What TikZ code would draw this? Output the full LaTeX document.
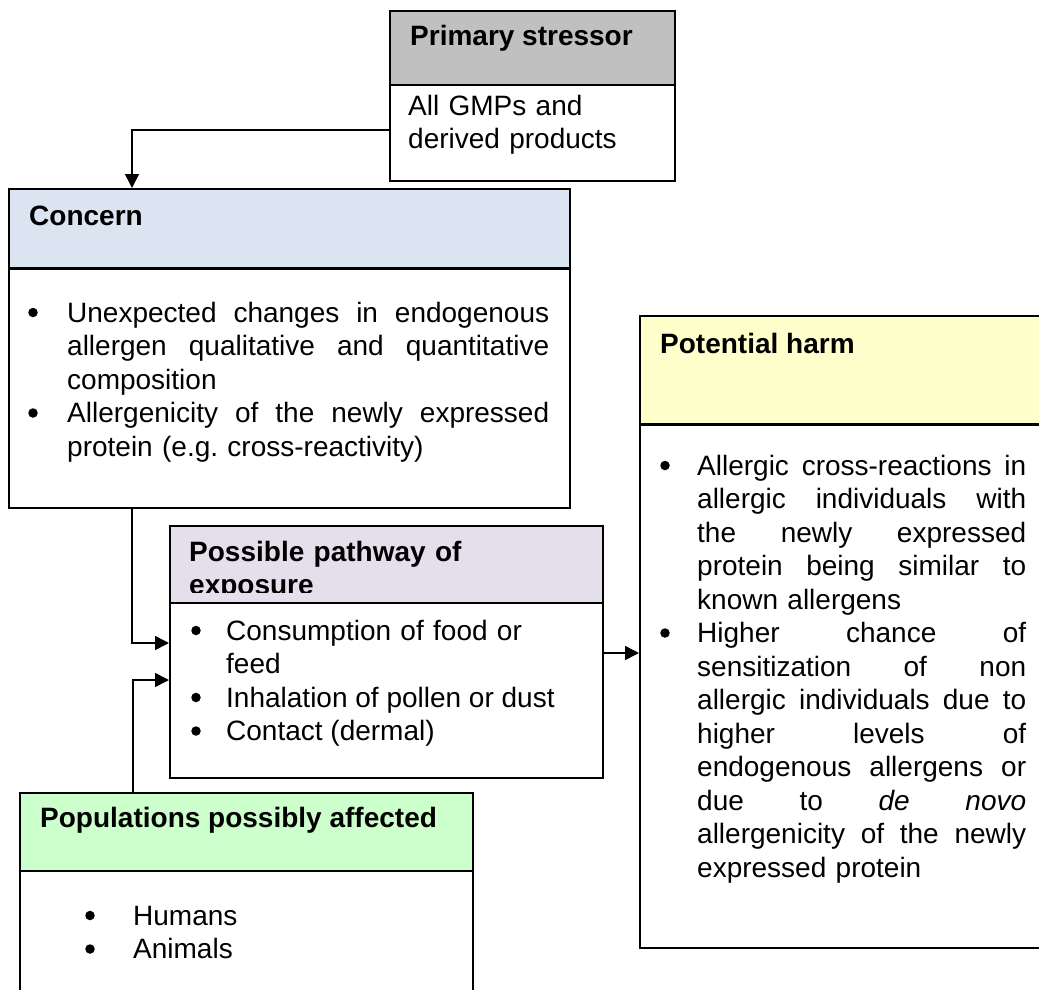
\documentclass[tikz,border=0pt]{standalone}
\usepackage{fontspec}
\setmainfont{Liberation Sans}
\usetikzlibrary{arrows.meta}
\definecolor{hdrgray}{HTML}{C0C0C0}
\definecolor{hdrblue}{HTML}{DBE5F1}
\definecolor{hdrlilac}{HTML}{E5DFEC}
\definecolor{hdryellow}{HTML}{FFFFCC}
\definecolor{hdrgreen}{HTML}{CCFFCC}
% one fully justified line of a given width: the word spaces take up the slack
\newcommand{\jline}[2]{\leavevmode\hbox to #1{\spaceskip=0.28em plus 1fil\relax #2}}
\newcommand{\cj}[1]{\jline{482pt}{#1}}
\newcommand{\hj}[1]{\jline{329pt}{#1}}
\frenchspacing
\begin{document}
\begin{tikzpicture}[x=1pt,y=-1pt,
  box/.style={draw=black, line width=1.6pt, fill=white, inner sep=0pt, anchor=north west},
  body/.style={font=\fontsize{28pt}{33.5pt}\selectfont, inner sep=0pt, anchor=base west, align=left},
  head/.style={font=\fontsize{28pt}{33.5pt}\selectfont\bfseries, inner sep=0pt, anchor=base west, align=left},
  bul/.style={circle, fill=black, inner sep=0pt, minimum size=9.5pt, yshift=9.5pt},
  sep/.style={line width=2.6pt},
  conn/.style={line width=1.6pt, -{Triangle[length=14pt,width=14pt]}}]
\useasboundingbox (0,0) rectangle (1039,990);
\clip (0,0) rectangle (1039,990);

% ---- boxes: body frame first, coloured header on top
\node[box, minimum width=285pt, minimum height=170pt] (prim) at (389,10) {};
\node[box, fill=hdrgray, minimum width=285pt, minimum height=74pt] (primh) at (389,10) {};

\node[box, minimum width=561pt, minimum height=319pt] (conc) at (8,188) {};
\node[box, fill=hdrblue, minimum width=561pt, minimum height=79pt] (conch) at (8,188) {};
\draw[sep] (conch.south west) -- (conch.south east);

\node[box, minimum width=433pt, minimum height=252pt] (path) at (169,525) {};
\node[box, fill=hdrlilac, minimum width=433pt, minimum height=77pt] (pathh) at (169,525) {};

\node[box, minimum width=421pt, minimum height=632pt] (harm) at (639,315) {};
\node[box, fill=hdryellow, minimum width=421pt, minimum height=108pt] (harmh) at (639,315) {};
\draw[sep] (harmh.south west) -- (harmh.south east);

\node[box, minimum width=453pt, minimum height=230pt] (pop) at (19,792) {};
\node[box, fill=hdrgreen, minimum width=453pt, minimum height=78pt] (poph) at (19,792) {};

% ---- primary stressor
\node[head] (primt) at (410,46) {Primary stressor};
\node[body, text width=260pt] (primb) at (408,115) {All GMPs and\\derived products};

% ---- concern (bullets sit on the baseline of their item)
\node[head] (conct) at (29,225) {Concern};
\node[bul] (cb1) at (33,322) {};
\node[body, text width=482pt] (ci1) at (67,322)
  {\cj{Unexpected changes in endogenous}\\\cj{allergen qualitative and quantitative}\\composition};
\node[bul] (cb2) at (33,422.5) {};
\node[body, text width=482pt] (ci2) at (67,422.5)
  {\cj{Allergenicity of the newly expressed}\\protein (e.g. cross-reactivity)};

% ---- possible pathway of exposure (heading cut off by its frame)
\begin{scope}
  \clip (169,525) rectangle (602,592);
  \node[head, text width=400pt] (patht) at (189,561) {Possible pathway of\\exposure};
\end{scope}
\node[bul] (pb1) at (196,640) {};
\node[body, text width=370pt] (pi1) at (226,640) {Consumption of food or\\feed};
\node[bul] (pb2) at (196,707) {};
\node[body] (pi2) at (226,707) {Inhalation of pollen or dust};
\node[bul] (pb3) at (196,740.5) {};
\node[body] (pi3) at (226,740.5) {Contact (dermal)};

% ---- potential harm
\node[head] (harmt) at (660,353) {Potential harm};
\node[bul] (hb1) at (665,475) {};
\node[body, text width=329pt] (hi1) at (697,475)
  {\hj{Allergic cross-reactions in}\\\hj{allergic individuals with}\\\hj{the newly expressed}\\\hj{protein being similar to}\\known allergens};
\node[bul] (hb2) at (665,642.5) {};
\node[body, text width=329pt] (hi2) at (697,642.5)
  {\hj{Higher chance of}\\\hj{sensitization of non}\\\hj{allergic individuals due to}\\\hj{higher levels of}\\\hj{endogenous allergens or}\\\hj{due to \textit{de} \textit{novo}}\\\hj{allergenicity of the newly}\\expressed protein};

% ---- populations possibly affected
\node[head] (popt) at (40,827) {Populations possibly affected};
\node[bul] (qb1) at (90,925) {};
\node[body] (qi1) at (133,925) {Humans};
\node[bul] (qb2) at (90,958.5) {};
\node[body] (qi2) at (133,958.5) {Animals};

% ---- connector levels
\coordinate (lvA) at (0,130);
\coordinate (colA) at (132,0);
\coordinate (colB) at (133,0);
\coordinate (lvB) at (0,643);
\coordinate (lvC) at (0,680);
\coordinate (lvD) at (0,653);

\draw[conn] (prim.west |- lvA) -| (conc.north -| colA);
\draw[conn] (conc.south -| colA) |- (path.west |- lvB);
\draw[conn] (pop.north -| colB) |- (path.west |- lvC);
\draw[conn] (path.east |- lvD) -- (harm.west |- lvD);
\end{tikzpicture}
\end{document}
